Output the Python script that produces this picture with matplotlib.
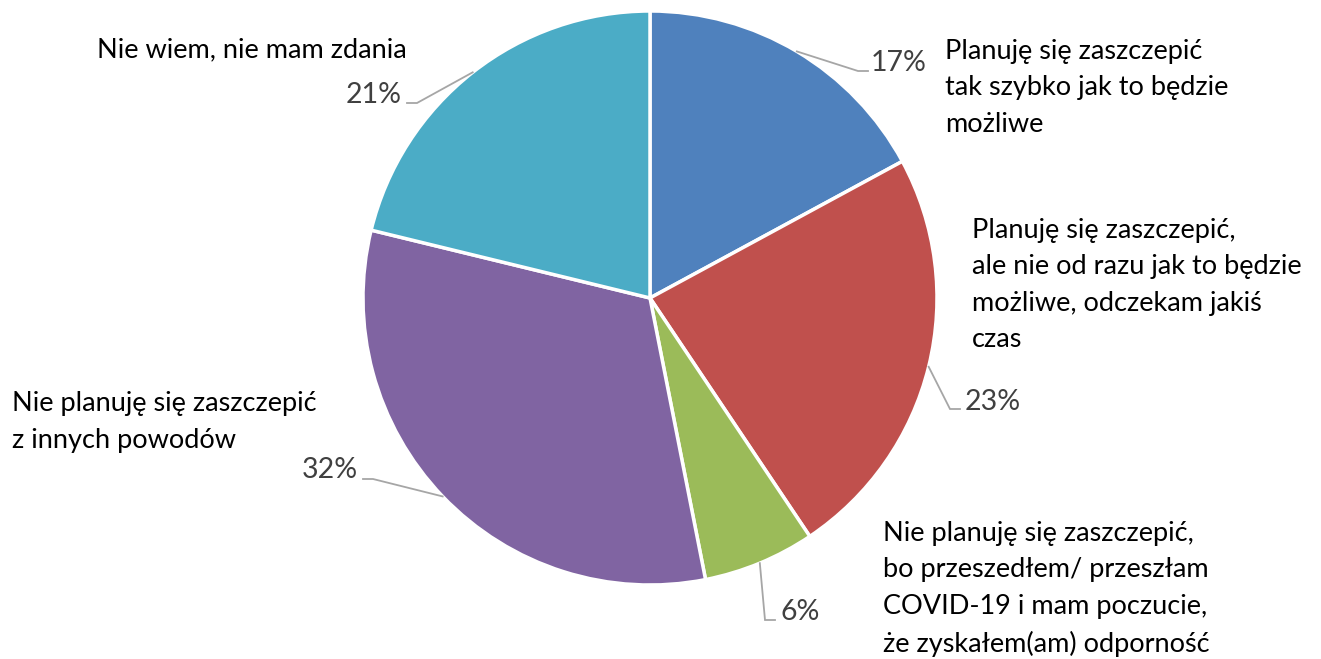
import numpy as np
import matplotlib
matplotlib.use("Agg")
import matplotlib.pyplot as plt

plt.rcParams['font.family'] = ['Lato', 'DejaVu Sans']

# dane
categories = [
    "Planuję się zaszczepić\ntak szybko jak to będzie\nmożliwe",
    "Planuję się zaszczepić,\nale nie od razu jak to będzie\nmożliwe, odczekam jakiś\nczas",
    "Nie planuję się zaszczepić,\nbo przeszedłem/ przeszłam\nCOVID-19 i mam poczucie,\nże zyskałem(am) odporność",
    "Nie planuję się zaszczepić\nz innych powodów",
    "Nie wiem, nie mam zdania",
]
values = [17.1, 23.5, 6.3, 31.9, 21.2]
pct_labels = ["17%", "23%", "6%", "32%", "21%"]
colors = ['#4F81BD', '#C0504D', '#9BBB59', '#8064A2', '#4BACC6']

W, H = 1321, 659
fig = plt.figure(figsize=(W / 100, H / 100), dpi=100)
ax = fig.add_axes([0, 0, 1, 1])


def py(y):
    # pozycja w pikselach od góry -> współrzędne danych
    return H - y


cx, cy, r = 650, py(298), 287
wedges, _ = ax.pie(values, colors=colors, startangle=90, counterclock=False,
                   center=(cx, cy), radius=r,
                   wedgeprops=dict(edgecolor='white', linewidth=2.5))

# punkt załamania linii, pozycja etykiety %, środek opisu kategorii (piksele)
bends = [(858, 71), (950, 409), (765, 620), (373, 479), (417, 103)]
pct_pos = [(871, 63), (965, 402), (780, 612), (358, 470), (402, 95)]
pct_ha = ['left', 'left', 'left', 'right', 'right']
cat_pos = [(945, 88), (972, 285), (883, 589), (12, 422), (97, 50)]

for i, w in enumerate(wedges):
    mid = np.deg2rad((w.theta1 + w.theta2) / 2)
    sx, sy = cx + r * np.cos(mid), cy + r * np.sin(mid)
    bx, by = bends[i][0], py(bends[i][1])
    ex = bx + (10 if pct_ha[i] == 'left' else -10)
    ax.plot([sx, bx, ex], [sy, by, by], color='#A6A6A6', linewidth=1.3,
            solid_joinstyle='miter')
    ax.text(pct_pos[i][0], py(pct_pos[i][1]), pct_labels[i], fontsize=20.5,
            color='#404040', ha=pct_ha[i], va='center')
    ax.text(cat_pos[i][0], py(cat_pos[i][1]), categories[i], fontsize=19.5,
            color='black', ha='left', va='center', linespacing=1.58)

ax.set_xlim(0, W)
ax.set_ylim(0, H)
ax.set_aspect('equal')
ax.axis('off')

fig.savefig('out.png', dpi=100)
